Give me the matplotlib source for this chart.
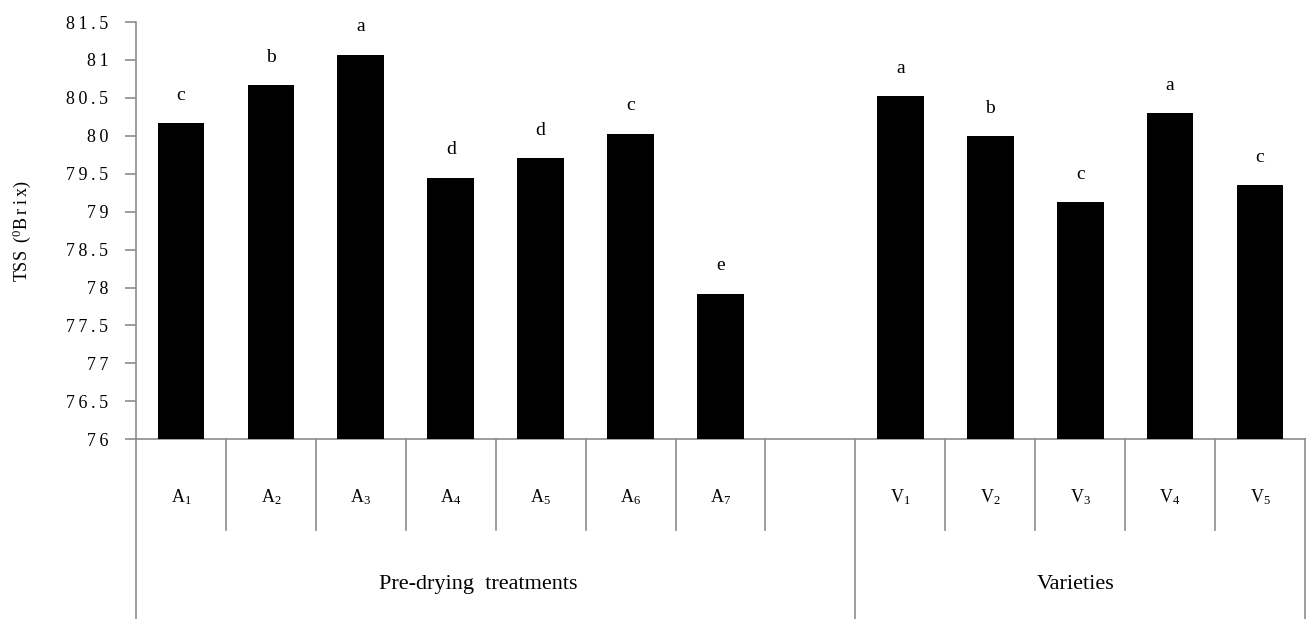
import matplotlib
matplotlib.use("Agg")
import matplotlib.pyplot as plt

plt.rcParams['font.family'] = ['Liberation Serif', 'DejaVu Serif']
plt.rcParams['mathtext.fontset'] = 'custom'
plt.rcParams['mathtext.rm'] = 'Liberation Serif'
plt.rcParams['mathtext.it'] = 'Liberation Serif'

# Data
treat_labels = ["A_1", "A_2", "A_3", "A_4", "A_5", "A_6", "A_7"]
treat_values = [80.17, 80.67, 81.07, 79.45, 79.71, 80.03, 77.92]
treat_letters = ["c", "b", "a", "d", "d", "c", "e"]
var_labels = ["V_1", "V_2", "V_3", "V_4", "V_5"]
var_values = [80.52, 80.0, 79.13, 80.3, 79.35]
var_letters = ["a", "b", "c", "a", "c"]
group_labels = ["Pre-drying  treatments", "Varieties"]
y_ticks = [76, 76.5, 77, 77.5, 78, 78.5, 79, 79.5, 80, 80.5, 81, 81.5]

gray = '#8c8c8c'
TS = "\u2009"

def spaced(s):
    return TS.join(list(s))

fig = plt.figure(figsize=(13.07, 6.19), dpi=100)
ax = fig.add_axes([136/1307, 1 - 439.3/619, (1305-136)/1307, (439.3-22)/619])

x_t = list(range(len(treat_values)))
x_v = [len(treat_values) + 1 + i for i in range(len(var_values))]
xs = x_t + x_v
vals = treat_values + var_values
letters = treat_letters + var_letters
labels = treat_labels + var_labels

ax.bar(xs, [v - 76 for v in vals], bottom=76, width=0.52, color='black', zorder=3)
for x, v, l in zip(xs, vals, letters):
    ax.annotate(l, (x, v), xytext=(0, 20), textcoords='offset points',
                ha='center', va='center', fontsize=14)

ax.set_xlim(-0.5, 12.5)
ax.set_ylim(76, 81.5)
ax.set_yticks(y_ticks)
ax.set_yticklabels([spaced(f"{t:g}") for t in y_ticks], fontsize=13)
ax.tick_params(axis='y', direction='out', length=8, color=gray, width=1.2, pad=12)
ax.set_xticks([])
for s in ['top', 'right']:
    ax.spines[s].set_visible(False)
for s in ['left', 'bottom']:
    ax.spines[s].set_color(gray)
    ax.spines[s].set_linewidth(1.2)

ax.set_ylabel("TSS" + TS + " (" + "$\\mathregular{^0}$" + spaced("Brix") + ")", fontsize=13, labelpad=24)

# category labels
trans = ax.get_xaxis_transform()
for x, lab in zip(xs, labels):
    ax.text(x, -0.139, "$\\mathrm{" + lab + "}$", transform=trans,
            ha='center', va='center', fontsize=13)

# separators
short_b = [i + 0.5 for i in range(7)] + [8.5, 9.5, 10.5, 11.5]
long_b = [-0.5, 7.5, 12.5]
for b in short_b:
    ax.plot([b, b], [0, -0.2175], transform=trans, color=gray, lw=1.2, clip_on=False)
for b in long_b:
    ax.plot([b, b], [0, -0.431], transform=trans, color=gray, lw=1.2, clip_on=False)

# group labels
ax.text(3.31, -0.349, group_labels[0], transform=trans, ha='center', va='center', fontsize=16)
ax.text(9.95, -0.349, group_labels[1], transform=trans, ha='center', va='center', fontsize=16)

fig.savefig("out.png", dpi=100)
